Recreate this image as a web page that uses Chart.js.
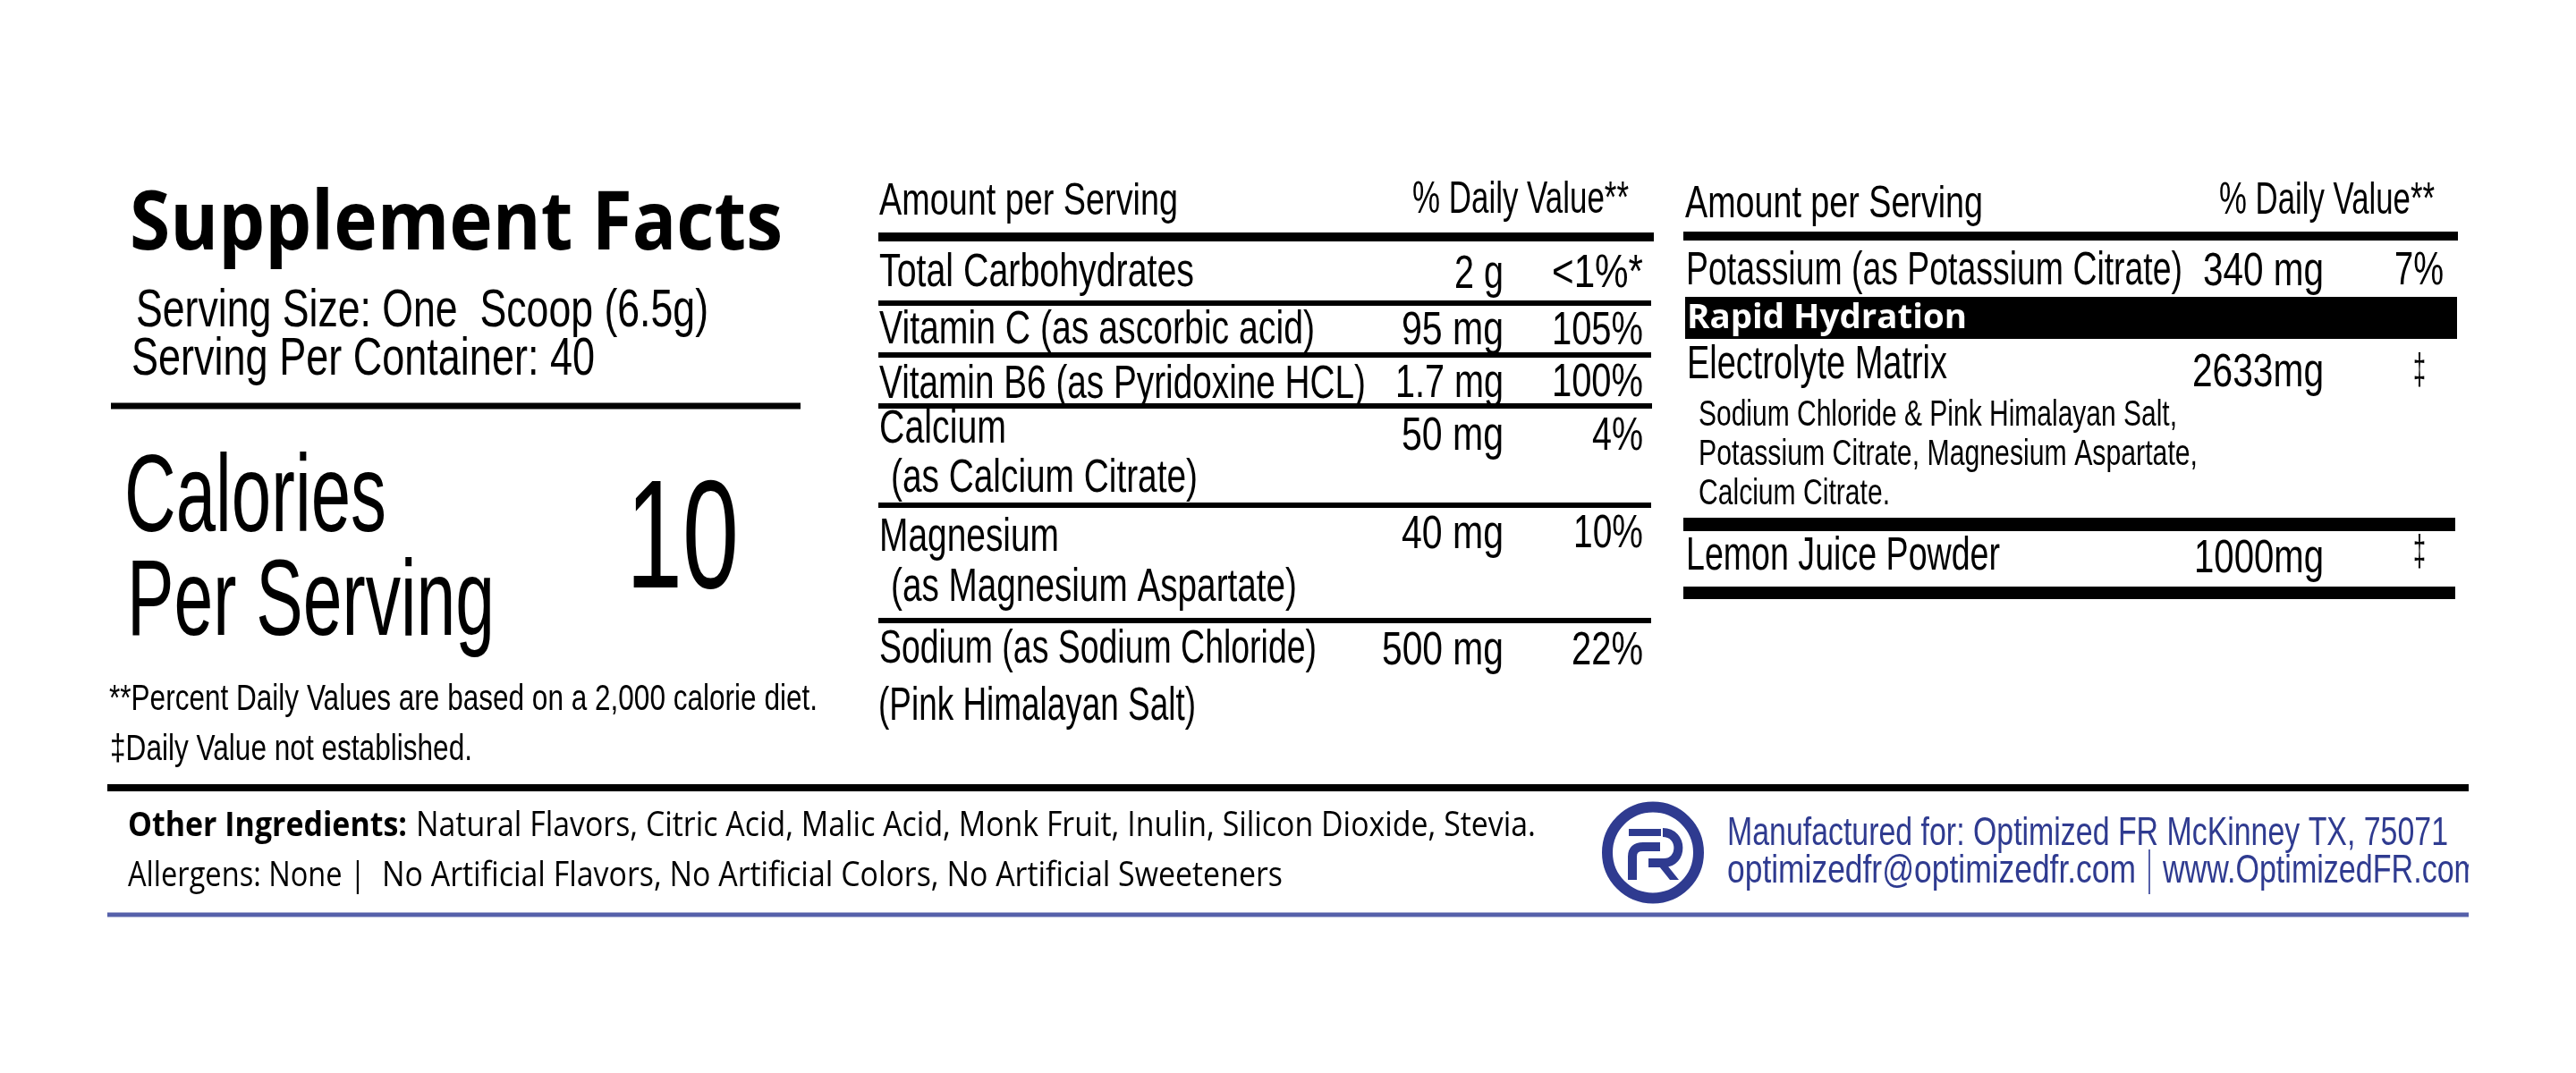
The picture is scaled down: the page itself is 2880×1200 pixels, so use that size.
<!DOCTYPE html>
<html>
<head>
<meta charset="utf-8">
<style>html,body{margin:0;padding:0;background:#fff;overflow:hidden}#wrap{width:2880px;height:1200px}</style>
<script src="https://cdn.jsdelivr.net/npm/chart.js@4"></script>
</head>
<body>
<div id="wrap"><canvas id="c" width="2880" height="1200"></canvas></div>
<script>
// ---- content ----
const titleText = "Supplement Facts";
const servingLines = ["Serving Size: One  Scoop (6.5g)", "Serving Per Container: 40"];
const calorieLabels = ["Calories", "Per Serving"];
const calorieValue = "10";
const footnotes = ["**Percent Daily Values are based on a 2,000 calorie diet.", "\u2021Daily Value not established."];
const headers = ["Amount per Serving", "% Daily Value**"];
const leftNames = ["Total Carbohydrates", "Vitamin C (as ascorbic acid)", "Vitamin B6 (as Pyridoxine HCL)", "Calcium", "(as Calcium Citrate)", "Magnesium", "(as Magnesium Aspartate)", "Sodium (as Sodium Chloride)", "(Pink Himalayan Salt)"];
const leftAmounts = ["2 g", "95 mg", "1.7 mg", "50 mg", "40 mg", "500 mg"];
const leftDaily = ["<1%*", "105%", "100%", "4%", "10%", "22%"];
const rightNames = ["Potassium (as Potassium Citrate)", "Electrolyte Matrix", "Lemon Juice Powder"];
const rightAmounts = ["340 mg", "2633mg", "1000mg"];
const rightDaily = ["7%", "\u2021", "\u2021"];
const bandLabel = "Rapid Hydration";
const matrixLines = ["Sodium Chloride & Pink Himalayan Salt,", "Potassium Citrate, Magnesium Aspartate,", "Calcium Citrate."];
const ingredientsLabel = "Other Ingredients:";
const ingredientsText = "Natural Flavors, Citric Acid, Malic Acid, Monk Fruit, Inulin, Silicon Dioxide, Stevia.";
const allergensLead = "Allergens: None |";
const allergensText = "No Artificial Flavors, No Artificial Colors, No Artificial Sweeteners";
const makerLines = ["Manufactured for: Optimized FR McKinney TX, 75071", "optimizedfr@optimizedfr.com", "www.OptimizedFR.com"];

// ---- layout (page units) ----
const SANS = '"Liberation Sans", Arial, sans-serif';
const OPEN = '"Open Sans", sans-serif';
const INK = '#000', BLUE = '#2f3b90', RULEBLUE = '#5661aa';

const ruleSegs = [
  [124, 895, 454, 7, INK],
  [982, 1849, 265, 10, INK], [982, 1846, 339, 6, INK], [982, 1846, 397, 6, INK],
  [982, 1847, 454, 6, INK], [982, 1846, 565, 6, INK], [982, 1846, 694, 6, INK],
  [1882, 2748, 264, 10, INK], [1884, 2747, 355.5, 47, INK],
  [1882, 2745, 586.5, 15, INK], [1882, 2745, 663, 14, INK],
  [120, 2760, 881, 8, INK], [120, 2760, 1023, 5, RULEBLUE]
];

function T(text, x, y, w, size, o) { return Object.assign({text, x, y, w, size}, o || {}); }
const texts = [
  T(titleText, 145, 279, 730, 92, {font: OPEN, weight: 'bold'}),
  T(servingLines[0], 152, 365, 640, 60), T(servingLines[1], 147, 419, 518, 60),
  T(calorieLabels[0], 139, 594, 293, 122), T(calorieLabels[1], 142, 710, 411, 120),
  T(calorieValue, 700, 657, 126, 172),
  T(footnotes[0], 122, 794, 792, 41), T(footnotes[1], 123, 850, 405, 41),

  T(headers[0], 983, 240, 334, 50), T(headers[1], 1579, 238, 242, 50),
  T(leftNames[0], 983, 320, 352, 51), T(leftNames[1], 983, 384, 487, 51),
  T(leftNames[2], 983, 445, 544, 51), T(leftNames[3], 983, 495, 142, 51),
  T(leftNames[4], 996, 550, 343, 51), T(leftNames[5], 983, 616, 201, 51),
  T(leftNames[6], 996, 672, 454, 51), T(leftNames[7], 983, 741, 489, 51),
  T(leftNames[8], 982, 805, 355, 51),
  T(leftAmounts[0], 1626, 322, 55, 51), T(leftAmounts[1], 1567, 385, 114, 51),
  T(leftAmounts[2], 1560, 444, 121, 51), T(leftAmounts[3], 1567, 503, 114, 51),
  T(leftAmounts[4], 1567, 613, 114, 51), T(leftAmounts[5], 1545, 743, 136, 51),
  T(leftDaily[0], 1735, 321, 102, 51), T(leftDaily[1], 1735, 385, 102, 51),
  T(leftDaily[2], 1735, 443, 102, 51), T(leftDaily[3], 1780, 503, 57, 51),
  T(leftDaily[4], 1759, 612, 78, 51), T(leftDaily[5], 1757, 743, 80, 51),

  T(headers[0], 1884, 243, 333, 50), T(headers[1], 2481, 239, 241, 50),
  T(rightNames[0], 1885, 318, 555, 51), T(rightAmounts[0], 2463, 319, 135, 51),
  T(rightDaily[0], 2677, 318, 55, 51),
  T(bandLabel, 1886, 367, 313, 38, {font: OPEN, weight: 'bold', color: '#fff'}),
  T(rightNames[1], 1886, 423, 291, 51), T(rightAmounts[1], 2451, 432, 147, 51),
  T(rightDaily[1], 2698, 429, 14, 48),
  T(matrixLines[0], 1899, 476, 535, 40), T(matrixLines[1], 1899, 520, 558, 40),
  T(matrixLines[2], 1899, 564, 214, 40),
  T(rightNames[2], 1885, 637, 351, 51), T(rightAmounts[2], 2453, 640, 145, 51),
  T(rightDaily[2], 2698, 632, 14, 48),

  T(ingredientsLabel, 143, 935, 312, 38, {font: OPEN, weight: 'bold'}),
  T(ingredientsText, 465, 935, 1252, 38, {font: OPEN}),
  T(allergensLead, 143, 991, 266, 38, {font: OPEN}),
  T(allergensText, 427, 991, 1007, 38, {font: OPEN}),

  T(makerLines[0], 1931, 945, 806, 45, {color: BLUE}),
  T(makerLines[1], 1931, 987, 457, 45, {color: BLUE}),
  T(makerLines[2], 2418, 987, 354, 45, {color: BLUE, clip: 2760})
];

const layoutPlugin = {
  id: 'labelLayout',
  afterDatasetsDraw(chart) {
    const {ctx, scales: {x, y}} = chart;
    const X = v => x.getPixelForValue(v), Y = v => y.getPixelForValue(v);
    ctx.save();
    ctx.textBaseline = 'alphabetic'; ctx.textAlign = 'left';
    for (const t of texts) {
      ctx.save();
      ctx.font = (t.weight || 'normal') + ' ' + t.size + 'px ' + (t.font || SANS);
      ctx.fillStyle = t.color || INK;
      if (t.clip) { ctx.beginPath(); ctx.rect(X(t.x) - 5, 0, X(t.clip) - X(t.x) + 5, 1200); ctx.clip(); }
      const m = ctx.measureText(t.text).width;
      ctx.translate(X(t.x), Y(t.y));
      ctx.scale(t.w / m, 1);
      ctx.fillText(t.text, 0, 0);
      ctx.restore();
    }
    // bar between the address and the web site
    ctx.strokeStyle = '#5661aa'; ctx.lineWidth = 2;
    ctx.beginPath(); ctx.moveTo(X(2403), Y(950)); ctx.lineTo(X(2403), Y(1000)); ctx.stroke();
    // logo
    ctx.strokeStyle = BLUE; ctx.fillStyle = BLUE;
    ctx.lineWidth = 12;
    ctx.beginPath(); ctx.arc(X(1848), Y(953.5), 51, 0, Math.PI * 2); ctx.stroke();
    ctx.lineWidth = 8; ctx.lineCap = 'butt';
    ctx.beginPath(); ctx.moveTo(X(1821), Y(931)); ctx.lineTo(X(1857), Y(931)); ctx.stroke();
    ctx.lineWidth = 10;
    ctx.beginPath(); ctx.moveTo(X(1825), Y(984)); ctx.lineTo(X(1825), Y(958));
    ctx.quadraticCurveTo(X(1825), Y(947), X(1837), Y(947)); ctx.lineTo(X(1856), Y(947)); ctx.stroke();
    ctx.beginPath(); ctx.moveTo(X(1859), Y(931));
    ctx.bezierCurveTo(X(1882), Y(931), X(1882), Y(965), X(1860), Y(965));
    ctx.lineTo(X(1843), Y(965)); ctx.stroke();
    ctx.beginPath(); ctx.moveTo(X(1855), Y(969)); ctx.lineTo(X(1865), Y(969));
    ctx.lineTo(X(1877), Y(984)); ctx.lineTo(X(1867), Y(984)); ctx.closePath(); ctx.fill();
    ctx.restore();
  }
};

new Chart(document.getElementById('c'), {
  type: 'line',
  data: {
    datasets: ruleSegs.map(r => ({
      data: [{x: r[0], y: r[2]}, {x: r[1], y: r[2]}],
      borderColor: r[4], borderWidth: r[3], pointRadius: 0, borderCapStyle: 'butt', fill: false
    }))
  },
  options: {
    responsive: false, animation: false, devicePixelRatio: 1,
    layout: {padding: 0},
    plugins: {legend: {display: false}, tooltip: {enabled: false}, title: {display: false}},
    scales: {
      x: {type: 'linear', display: false, min: 0, max: 2880},
      y: {type: 'linear', display: false, min: 0, max: 1200, reverse: true}
    }
  },
  plugins: [layoutPlugin]
});
</script>
</body>
</html>
